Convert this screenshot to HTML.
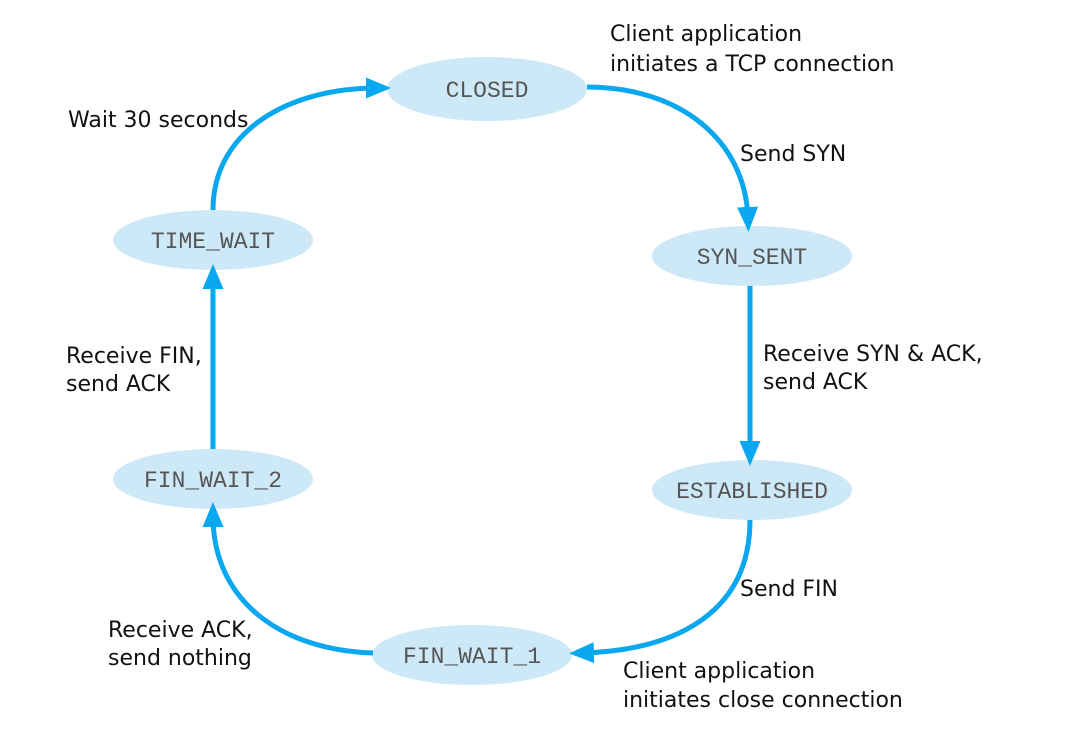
<!DOCTYPE html>
<html><head><meta charset="utf-8"><style>
html,body{margin:0;padding:0;background:#fff;}
svg{display:block}
.s{font-family:"Liberation Mono",monospace;font-size:23px;fill:#555;text-anchor:middle}
.l{font-family:"DejaVu Sans","Liberation Sans",sans-serif;font-size:22px;fill:#111}
</style></head><body>
<svg width="1077" height="745" viewBox="0 0 1077 745">
<defs><marker id="a" markerWidth="5" markerHeight="5" refX="2.2" refY="2.5" orient="auto" markerUnits="strokeWidth"><path d="M0,0.4 L5,2.5 L0,4.6 Z" fill="#08a7ef"/></marker></defs>
<g fill="#cde9f8">
<ellipse cx="487" cy="89" rx="100" ry="32"/>
<ellipse cx="752" cy="256" rx="100" ry="30"/>
<ellipse cx="752" cy="490" rx="100" ry="30"/>
<ellipse cx="472" cy="655" rx="100" ry="30"/>
<ellipse cx="213" cy="479" rx="100" ry="30"/>
<ellipse cx="213" cy="240" rx="100" ry="30"/>
</g>
<g fill="none" stroke="#08a7ef" stroke-width="5" marker-end="url(#a)">
<path d="M587,87 C680,87 745,140 748,218"/>
<path d="M750,286 L750,452"/>
<path d="M750,520 C750,610 680,650 583,653"/>
<path d="M373,653 C280,650 213,600 213,516"/>
<path d="M213,449 L213,278"/>
<path d="M213,210 C213,130 290,88 377,88"/>
</g>
<g class="s">
<text x="487" y="97">CLOSED</text>
<text x="752" y="264">SYN_SENT</text>
<text x="752" y="498">ESTABLISHED</text>
<text x="472" y="663">FIN_WAIT_1</text>
<text x="213" y="487">FIN_WAIT_2</text>
<text x="213" y="248">TIME_WAIT</text>
</g>
<g class="l">
<text x="610" y="41">Client application</text>
<text x="610" y="71">initiates a TCP connection</text>
<text x="740" y="161">Send SYN</text>
<text x="763" y="361">Receive SYN &amp; ACK,</text>
<text x="763" y="389">send ACK</text>
<text x="740" y="596">Send FIN</text>
<text x="623" y="678">Client application</text>
<text x="623" y="707">initiates close connection</text>
<text x="108" y="637">Receive ACK,</text>
<text x="108" y="665">send nothing</text>
<text x="66" y="363">Receive FIN,</text>
<text x="66" y="391">send ACK</text>
<text x="68" y="127">Wait 30 seconds</text>
</g>
</svg>
</body></html>
